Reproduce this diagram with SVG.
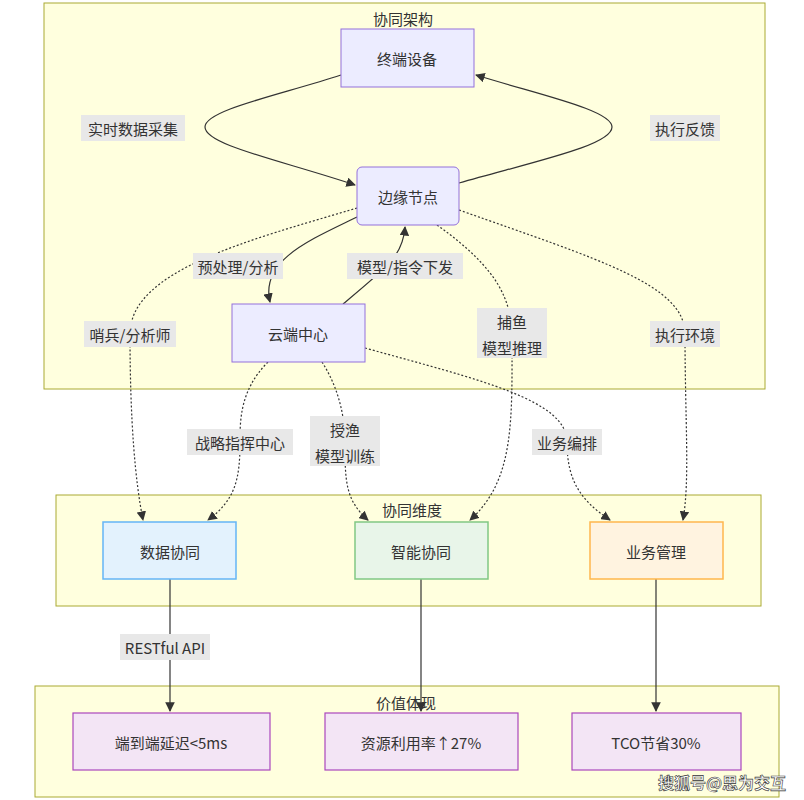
<svg xmlns="http://www.w3.org/2000/svg" width="804" height="800" viewBox="0 0 804 800">
<style>
text{font-family:"Noto Sans CJK SC","Noto Sans",sans-serif;font-size:15px;fill:#333;text-anchor:middle;dominant-baseline:central}
.cl{fill:#ffffde;stroke:#aaaa33;stroke-width:1}
.n{fill:#ececff;stroke:#9370db;stroke-width:1}
.v{fill:#f3e5f5;stroke:#ab47bc;stroke-width:1.2}
.e{fill:none;stroke:#333;stroke-width:1.2}
.d{fill:none;stroke:#333;stroke-width:1.2;stroke-dasharray:2 2}
.lb{fill:#e8e8e8}
</style>
<defs><marker id="a" viewBox="0 0 10 10" refX="9" refY="5" markerWidth="8" markerHeight="8" orient="auto-start-reverse"><path d="M0,0L10,5L0,10z" fill="#333"/></marker></defs>
<g id="clusters">
<rect class="cl" x="44" y="3" width="721" height="386"/><text x="403" y="18">协同架构</text>
<rect class="cl" x="56" y="495" width="705" height="111"/><text x="412" y="509">协同维度</text>
<rect class="cl" x="35" y="686" width="744" height="111"/><text x="406" y="702">价值体现</text>
</g>
<g id="edges">
<path class="e" d="M341,75C280,95 205,110 205,127C205,145 280,160 355,185" marker-end="url(#a)"/>
<path class="e" d="M459,183C540,160 612,145 612,127C612,110 540,95 476,75" marker-end="url(#a)"/>
<path class="e" d="M357,217C310,240 260,260 270,302" marker-end="url(#a)"/>
<path class="e" d="M343,304C390,265 403,255 405,227" marker-end="url(#a)"/>
<path class="d" d="M357,208C250,240 130,270 130,334C130,420 135,480 143,520" marker-end="url(#a)"/>
<path class="d" d="M437,225C500,270 510,300 512,333C512,420 515,480 470,520" marker-end="url(#a)"/>
<path class="d" d="M459,210C600,260 685,285 685,334C685,420 690,480 683,520" marker-end="url(#a)"/>
<path class="d" d="M268,362C240,390 240,420 240,442C240,480 235,500 208,520" marker-end="url(#a)"/>
<path class="d" d="M322,362C340,390 345,420 345,442C345,480 345,500 368,520" marker-end="url(#a)"/>
<path class="d" d="M365,348C480,380 567,400 567,442C567,480 580,500 610,520" marker-end="url(#a)"/>
<path class="e" d="M170,579V711" marker-end="url(#a)"/>
<path class="e" d="M421,579V711" marker-end="url(#a)"/>
<path class="e" d="M656,579V711" marker-end="url(#a)"/>
<rect class="lb" x="81" y="115" width="104" height="26"/><text x="133" y="128">实时数据采集</text>
<rect class="lb" x="650" y="115" width="70" height="26"/><text x="685" y="128">执行反馈</text>
<rect class="lb" x="193" y="253" width="90" height="26"/><text x="238" y="266">预处理/分析</text>
<rect class="lb" x="347" y="253" width="116" height="26"/><text x="405" y="266">模型/指令下发</text>
<rect class="lb" x="84" y="321" width="92" height="26"/><text x="130" y="334">哨兵/分析师</text>
<rect class="lb" x="477" y="308" width="70" height="50"/><text x="512" y="321">捕鱼</text><text x="512" y="347">模型推理</text>
<rect class="lb" x="650" y="321" width="70" height="26"/><text x="685" y="334">执行环境</text>
<rect class="lb" x="187" y="429" width="106" height="26"/><text x="240" y="442">战略指挥中心</text>
<rect class="lb" x="310" y="416" width="70" height="50"/><text x="345" y="429">授渔</text><text x="345" y="455">模型训练</text>
<rect class="lb" x="532" y="429" width="70" height="26"/><text x="567" y="442">业务编排</text>
<rect class="lb" x="120" y="634" width="90" height="26"/><text x="165" y="647">RESTful API</text>
</g>
<g id="n1"><rect class="n" x="341" y="29" width="133" height="58"/><text x="407" y="58">终端设备</text></g>
<g id="n2"><rect class="n" x="357" y="167" width="102" height="58" rx="5"/><text x="408" y="196">边缘节点</text></g>
<g id="n3"><rect class="n" x="232" y="304" width="133" height="58"/><text x="298" y="333">云端中心</text></g>
<g id="n4"><rect x="103" y="522" width="133" height="57" fill="#e3f2fd" stroke="#64b5f6" stroke-width="1.5"/><text x="170" y="551">数据协同</text></g>
<g id="n5"><rect x="355" y="522" width="133" height="57" fill="#e8f5e9" stroke="#81c784" stroke-width="1.5"/><text x="421" y="551">智能协同</text></g>
<g id="n6"><rect x="590" y="522" width="133" height="57" fill="#fff3e0" stroke="#ffb74d" stroke-width="1.5"/><text x="656" y="551">业务管理</text></g>
<g id="n7"><rect class="v" x="73" y="713" width="197" height="57"/><text x="171" y="742">端到端延迟&lt;5ms</text></g>
<g id="n8"><rect class="v" x="325" y="713" width="193" height="57"/><text x="421" y="742">资源利用率↑27%</text></g>
<g id="n9"><rect class="v" x="572" y="713" width="169" height="57"/><text x="656" y="742">TCO节省30%</text></g>
<text x="722" y="782" style="font-weight:bold;fill:#fff;stroke:#333;stroke-width:0.6;font-size:16px">搜狐号@思为交互</text>
</svg>
